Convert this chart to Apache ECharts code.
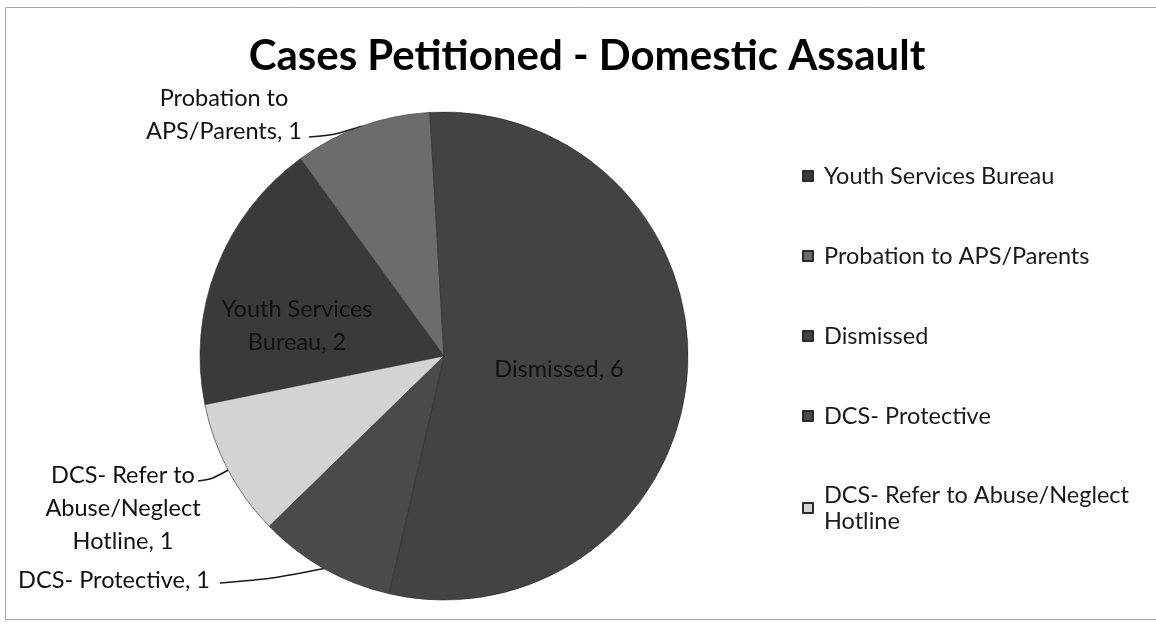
<!DOCTYPE html>
<html>
<head>
<meta charset="utf-8">
<title>Cases Petitioned - Domestic Assault</title>
<script src="https://cdn.jsdelivr.net/npm/echarts@6/dist/echarts.min.js"></script>
<style>
  html, body { margin: 0; padding: 0; background: #ffffff; }
  #chart { width: 1156px; height: 625px; }
</style>
</head>
<body>
<div id="chart"></div>
<script>
// Outcomes of petitioned domestic assault cases
const categories = [
  'Youth Services Bureau',
  'Probation to APS/Parents',
  'Dismissed',
  'DCS- Protective',
  'DCS- Refer to Abuse/Neglect Hotline'
];
const caseCounts = [2, 1, 6, 1, 1];

// How each slice label breaks across lines
const labelLines = [
  'Youth Services\nBureau',
  'Probation to\nAPS/Parents',
  'Dismissed',
  'DCS- Protective',
  'DCS- Refer to\nAbuse/Neglect\nHotline'
];

const sliceColors = ['#3a3a3a', '#6c6c6c', '#434343', '#4a4a4a', '#d3d3d3'];
const insideLabel = [true, false, true, false, false];

// Where each label sits; outside labels also give the end of their leader line
const labelSpots = [
  { x: 297, y: 326 },
  { x: 224, y: 115, lineEnd: [309, 137] },
  { x: 559, y: 369 },
  { x: 114, y: 580, lineEnd: [220, 583] },
  { x: 123, y: 508, lineEnd: [198, 481] }
];

const FONT = 'Lato, "Open Sans", "Noto Sans", sans-serif';

const chart = echarts.init(document.getElementById('chart'), null, { renderer: 'canvas' });

const seriesData = categories.map((name, i) => ({
  name: name,
  value: caseCounts[i],
  label: { position: insideLabel[i] ? 'inside' : 'outside' },
  labelLine: { show: !insideLabel[i] }
}));

const legendNames = categories.map(name => {
  if (name === 'DCS- Refer to Abuse/Neglect Hotline') {
    // first line stays level with the swatch, second line hangs below
    return { name: name, textStyle: { padding: [0, 0, -25, 6] } };
  }
  return { name: name };
});

chart.setOption({
  backgroundColor: '#ffffff',
  animation: false,
  color: sliceColors,
  title: {
    text: 'Cases Petitioned - Domestic Assault',
    left: 582,
    top: 30,
    textAlign: 'center',
    textStyle: {
      fontFamily: FONT,
      fontWeight: 'bold',
      fontSize: 42,
      color: '#000000'
    }
  },
  legend: {
    orient: 'vertical',
    left: 802,
    top: 163,
    padding: 0,
    itemGap: 54,
    itemWidth: 10,
    itemHeight: 10,
    icon: 'rect',
    data: legendNames,
    formatter: name => name === 'DCS- Refer to Abuse/Neglect Hotline'
      ? 'DCS- Refer to Abuse/Neglect\nHotline'
      : name,
    textStyle: {
      fontFamily: FONT,
      fontSize: 23.5,
      lineHeight: 26,
      color: '#1a1a1a',
      padding: [0, 0, 0, 6]
    }
  },
  graphic: [{
    type: 'rect',
    silent: true,
    shape: { x: 5.5, y: 7.5, width: 1160, height: 612 },
    style: { fill: 'none', stroke: '#a8a8a8', lineWidth: 1 }
  }],
  series: [{
    type: 'pie',
    center: [444, 356],
    radius: 244,
    startAngle: 191.5,
    clockwise: true,
    avoidLabelOverlap: false,
    data: seriesData,
    itemStyle: { borderWidth: 0.6, borderColor: '#2a2a2a' },
    label: {
      show: true,
      formatter: p => labelLines[p.dataIndex] + ', ' + p.value,
      fontFamily: FONT,
      fontSize: 23.5,
      lineHeight: 33,
      color: '#111111',
      align: 'center'
    },
    labelLine: {
      show: true,
      smooth: 0.25,
      lineStyle: { color: '#1a1a1a', width: 1.6 }
    },
    labelLayout: function (params) {
      const spot = labelSpots[params.dataIndex];
      const out = { x: spot.x, y: spot.y, align: 'center', verticalAlign: 'middle' };
      if (spot.lineEnd && params.labelLinePoints) {
        const edge = params.labelLinePoints[0];
        const mid = [
          (edge[0] + spot.lineEnd[0]) / 2,
          (edge[1] + spot.lineEnd[1]) / 2 + 3
        ];
        out.labelLinePoints = [edge, mid, spot.lineEnd];
      }
      return out;
    }
  }]
});
</script>
</body>
</html>
